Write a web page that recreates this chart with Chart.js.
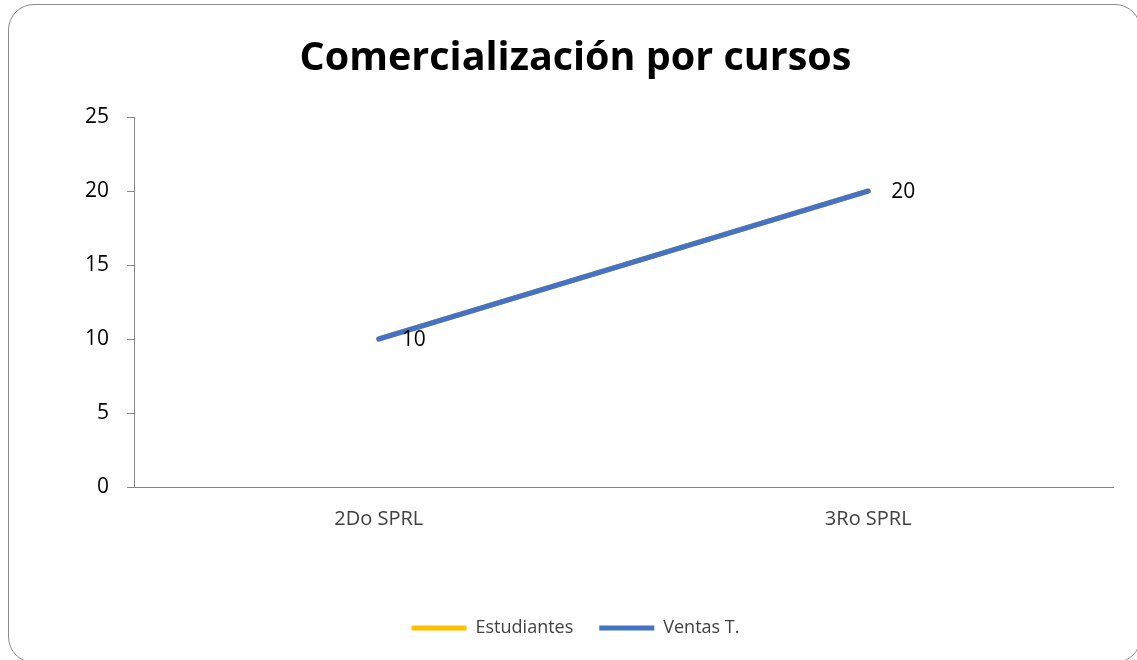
<!DOCTYPE html>
<html>
<head>
<meta charset="utf-8">
<script src="https://cdn.jsdelivr.net/npm/chart.js@4"></script>
<style>
  html, body { margin: 0; padding: 0; background: #fff; overflow: hidden; }
  #frame {
    position: absolute; left: 8px; top: 4px; width: 1131px; height: 657px;
    border: 1px solid #8c8c8c; border-radius: 26px;
  }
  #wrap { position: absolute; left: 0; top: 0; width: 1137px; height: 660px; }
</style>
</head>
<body>
<div id="frame"></div>
<div id="wrap"><canvas id="chart" width="1137" height="660"></canvas></div>
<script>
const categories = ['2Do SPRL', '3Ro SPRL'];
const estudiantes = [10, 20];
const ventas = [10, 20];
const yTicks = [0, 5, 10, 15, 20, 25];

const FONT = "'Open Sans', 'Noto Sans', sans-serif";
const PLOT_BOTTOM = 487;
const PAD_BOTTOM = 13;

// value labels to the right of each point of the blue line
const valueLabels = {
  id: 'valueLabels',
  afterDatasetsDraw(chart) {
    const ctx = chart.ctx;
    const meta = chart.getDatasetMeta(1);
    ctx.save();
    ctx.font = '21px ' + FONT;
    ctx.fillStyle = '#000';
    ctx.textAlign = 'left';
    ctx.textBaseline = 'middle';
    meta.data.forEach((pt, i) => {
      ctx.fillText(String(ventas[i]), pt.x + 23, pt.y + 1);
    });
    ctx.restore();
  },
};

new Chart(document.getElementById('chart').getContext('2d'), {
  type: 'line',
  data: {
    labels: categories,
    datasets: [
      {
        label: 'Estudiantes',
        data: estudiantes,
        borderColor: '#FFC000',
        backgroundColor: '#FFC000',
        borderWidth: 5,
        borderCapStyle: 'round',
        pointRadius: 0,
        order: 2,
      },
      {
        label: 'Ventas T.',
        data: ventas,
        borderColor: '#4472C4',
        backgroundColor: '#4472C4',
        borderWidth: 5,
        borderCapStyle: 'round',
        pointRadius: 0,
        order: 1,
      },
    ],
  },
  options: {
    responsive: false,
    animation: false,
    layout: { padding: { left: 14, right: 0, top: 0, bottom: PAD_BOTTOM } },
    plugins: {
      title: {
        display: true,
        text: 'Comercialización por cursos',
        color: '#000',
        font: { family: FONT, size: 39.5, weight: 'bold' },
        padding: { top: 35, bottom: 34.6 },
      },
      legend: {
        position: 'bottom',
        labels: {
          usePointStyle: true,
          pointStyle: 'line',
          pointStyleWidth: 55,
          padding: 26,
          color: '#404040',
          font: { family: FONT, size: 18 },
          sort: (a, b) => a.datasetIndex - b.datasetIndex,
        },
      },
      tooltip: { enabled: false },
    },
    scales: {
      x: {
        offset: true,
        grid: { display: true, drawOnChartArea: false, drawTicks: false },
        border: { color: '#868686', width: 1 },
        ticks: { color: '#404040', padding: 20, font: { family: FONT, size: 20 } },
        afterFit: (s) => {
          const lg = s.chart.legend ? s.chart.legend.height : 0;
          s.height = s.chart.height - lg - PLOT_BOTTOM - PAD_BOTTOM;
        },
      },
      y: {
        min: 0,
        max: 25,
        afterBuildTicks: (s) => { s.ticks = yTicks.map((v) => ({ value: v })); },
        grid: { drawOnChartArea: false, drawTicks: true, tickLength: 7, color: '#868686' },
        border: { color: '#868686', width: 1 },
        ticks: { color: '#000', padding: 18, font: { family: FONT, size: 21 } },
        afterFit: (s) => { s.width = 120; },
      },
      // empty right-hand spacer so the plot ends where the reference does
      yRight: {
        position: 'right',
        display: true,
        grid: { display: false },
        border: { display: false },
        ticks: { display: false },
        afterFit: (s) => { s.width = 24; },
      },
    },
  },
  plugins: [valueLabels],
});
</script>
</body>
</html>
